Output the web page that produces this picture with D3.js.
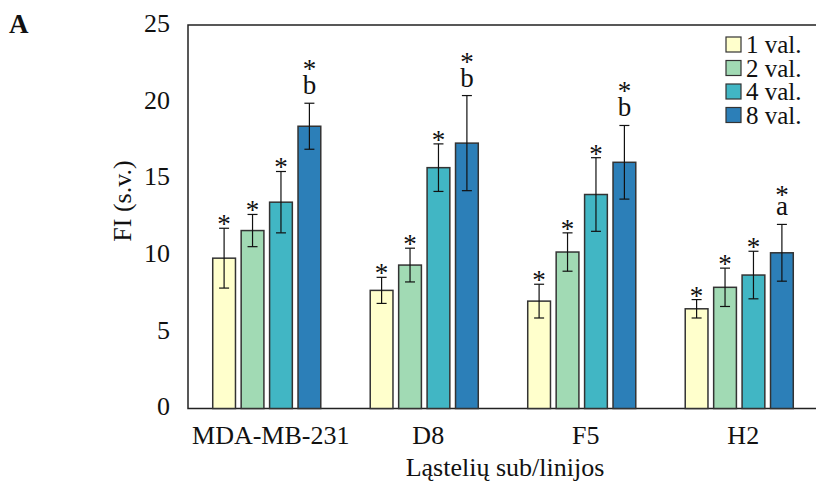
<!DOCTYPE html>
<html>
<head>
<meta charset="utf-8">
<script src="https://cdn.jsdelivr.net/npm/d3@7"></script>
<style>
  body { margin: 0; background: #fff; }
  text { font-family: "Liberation Serif", "DejaVu Serif", serif; }
</style>
</head>
<body>
<div id="chart"></div>
<script>
// cell lines and time points
var categories = ["MDA-MB-231", "D8", "F5", "H2"];
var series = ["1 val.", "2 val.", "4 val.", "8 val."];
var colors = ["#ffffcc", "#a1dab4", "#41b6c4", "#2c7fb8"];

// FI means per series (one value per category)
var val1 = [9.8, 7.7, 7.0, 6.5];
var val2 = [11.6, 9.35, 10.2, 7.9];
var val4 = [13.45, 15.7, 13.95, 8.7];
var val8 = [18.4, 17.3, 16.05, 10.15];
// error (+/-)
var err1 = [1.95, 0.85, 1.1, 0.6];
var err2 = [1.05, 1.1, 1.25, 1.25];
var err4 = [2.0, 1.55, 2.4, 1.55];
var err8 = [1.5, 3.1, 2.4, 1.85];
// significance letters above 8 val. bars
var letters8 = ["b", "b", "b", "a"];

var yTicks = [0, 5, 10, 15, 20, 25];

var serif = "Liberation Serif";
var w = 816, h = 484;
var mLeft = 188, mRight = 818, mTop = 25, mBottom = 408.5;

var svg = d3.select("#chart").append("svg")
  .attr("width", w)
  .attr("height", h)
  .attr("font-family", serif);

var x0 = d3.scaleBand().domain(categories).range([mLeft, mRight])
  .paddingInner(0.314).paddingOuter(0.157);
var x1 = d3.scaleBand().domain(series).range([0, x0.bandwidth()])
  .paddingInner(0.2);
var y = d3.scaleLinear().domain([0, 25]).range([mBottom, mTop]);

var vals = [val1, val2, val4, val8];
var errs = [err1, err2, err4, err8];
var data = [];
categories.forEach(function(c, ci){
  series.forEach(function(s, si){
    data.push({cat: c, ser: s, si: si, v: vals[si][ci], e: errs[si][ci],
      letter: si === 3 ? letters8[ci] : null});
  });
});

// frame: left, top, bottom
svg.append("path")
  .attr("d", "M" + w + "," + mTop + "H" + mLeft + "V" + mBottom + "H" + w)
  .attr("fill", "none")
  .attr("stroke", "#222")
  .attr("stroke-width", 1.5);

// y axis labels
var yAxis = d3.axisLeft(y).tickValues(yTicks).tickSize(0).tickPadding(18);
var yg = svg.append("g").attr("transform", "translate(" + mLeft + ",-2)").call(yAxis)
  .attr("font-family", serif);
yg.select(".domain").remove();
yg.selectAll("text").attr("font-size", 26).attr("fill", "#111");

// x axis labels
var xAxis = d3.axisBottom(x0).tickSize(0).tickPadding(17);
var xg = svg.append("g").attr("transform", "translate(4," + mBottom + ")").call(xAxis)
  .attr("font-family", serif);
xg.select(".domain").remove();
xg.selectAll("text").attr("font-size", 26).attr("fill", "#111");

// bars
svg.selectAll("rect.bar")
  .data(data)
  .enter()
  .append("rect")
    .attr("class", "bar")
    .attr("x", function(d){ return x0(d.cat) + x1(d.ser); })
    .attr("y", function(d){ return y(d.v); })
    .attr("width", x1.bandwidth())
    .attr("height", function(d){ return y(0) - y(d.v); })
    .attr("fill", function(d){ return colors[d.si]; })
    .attr("stroke", "#333")
    .attr("stroke-width", 1.5);

// error bars
var eb = svg.selectAll("g.err").data(data).enter().append("g")
  .attr("class", "err")
  .attr("transform", function(d){ return "translate(" + (x0(d.cat) + x1(d.ser) + x1.bandwidth() / 2) + ",0)"; });
eb.append("line")
  .attr("y1", function(d){ return y(d.v + d.e); })
  .attr("y2", function(d){ return y(d.v - d.e); })
  .attr("stroke", "#111").attr("stroke-width", 1.2);
eb.append("line")
  .attr("x1", -5).attr("x2", 5)
  .attr("y1", function(d){ return y(d.v + d.e); })
  .attr("y2", function(d){ return y(d.v + d.e); })
  .attr("stroke", "#111").attr("stroke-width", 1.2);
eb.append("line")
  .attr("x1", -5).attr("x2", 5)
  .attr("y1", function(d){ return y(d.v - d.e); })
  .attr("y2", function(d){ return y(d.v - d.e); })
  .attr("stroke", "#111").attr("stroke-width", 1.2);

// letters and asterisks
eb.filter(function(d){ return d.letter; }).append("text")
  .attr("text-anchor", "middle")
  .attr("y", function(d){ return y(d.v + d.e) - 9; })
  .attr("font-size", 27)
  .attr("fill", "#111")
  .text(function(d){ return d.letter; });
eb.append("text")
  .attr("text-anchor", "middle")
  .attr("y", function(d){
    var off = 5;
    if (d.letter === "b") off = -25;
    else if (d.letter) off = -20;
    return y(d.v + d.e) + off;
  })
  .attr("font-size", 27)
  .attr("fill", "#111")
  .text("*");

// legend
var lg = svg.append("g").attr("transform", "translate(726,37)");
series.forEach(function(s, i){
  lg.append("rect")
    .attr("x", 0).attr("y", i * 23.5)
    .attr("width", 15).attr("height", 15)
    .attr("fill", colors[i])
    .attr("stroke", "#333").attr("stroke-width", 1.2);
  lg.append("text")
    .attr("x", 20).attr("y", i * 23.5 + 16)
    .attr("font-size", 25)
    .attr("fill", "#111")
    .text(s);
});

// axis titles
svg.append("text")
  .attr("transform", "translate(131,201) rotate(-90)")
  .attr("text-anchor", "middle")
  .attr("font-size", 26)
  .attr("fill", "#111")
  .text("FI (s.v.)");
svg.append("text")
  .attr("x", 505).attr("y", 476)
  .attr("text-anchor", "middle")
  .attr("font-size", 26)
  .attr("fill", "#111")
  .text("Ląstelių sub/linijos");

svg.append("text")
  .attr("x", 9).attr("y", 33)
  .attr("font-size", 27)
  .attr("font-weight", "bold")
  .attr("fill", "#111")
  .text("A");
</script>
</body>
</html>
